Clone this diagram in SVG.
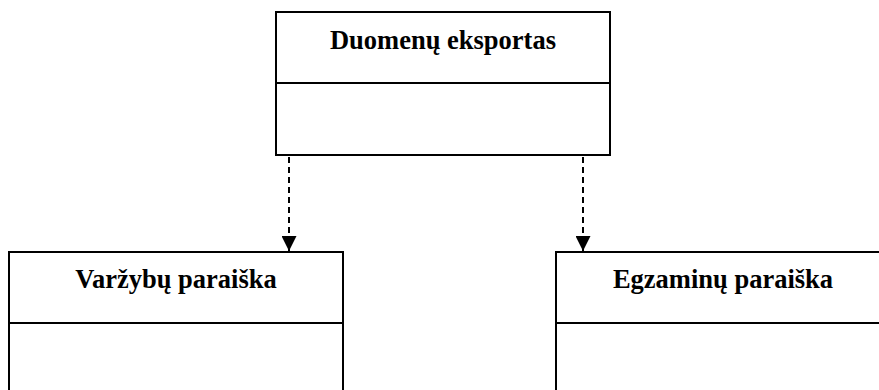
<svg xmlns="http://www.w3.org/2000/svg" width="879" height="390" viewBox="0 0 879 390">
<style>
.box{fill:#fff;stroke:#000;stroke-width:2}
.t{font-family:"Liberation Serif","Times New Roman",serif;font-weight:bold;font-size:26.5px;text-anchor:middle;fill:#000}
.c{stroke:#000;stroke-width:2;stroke-dasharray:6,4;fill:none}
</style>
<defs>
<marker id="ah" markerWidth="15" markerHeight="15" refX="15" refY="7.5" orient="auto" markerUnits="userSpaceOnUse">
<path d="M0,0 L15,7.5 L0,15 Z" fill="#000"/>
</marker>
</defs>
<rect width="879" height="390" fill="#fff"/>
<g id="connectors">
<line class="c" x1="289" y1="157" x2="289" y2="251" marker-end="url(#ah)"/>
<line class="c" x1="583" y1="157" x2="583" y2="251" marker-end="url(#ah)"/>
</g>
<g id="duomenu-eksportas">
<rect class="box" x="276" y="12" width="334" height="143"/>
<line class="box" x1="276" y1="83" x2="610" y2="83"/>
<text class="t" x="443" y="49">Duomenų eksportas</text>
</g>
<g id="varzybu-paraiska">
<rect class="box" x="9" y="252" width="334" height="150"/>
<line class="box" x1="9" y1="323" x2="343" y2="323"/>
<text class="t" x="176" y="288">Varžybų paraiška</text>
</g>
<g id="egzaminu-paraiska">
<rect class="box" x="556" y="252" width="334" height="150"/>
<line class="box" x1="556" y1="323" x2="890" y2="323"/>
<text class="t" x="723" y="288">Egzaminų paraiška</text>
</g>
</svg>
